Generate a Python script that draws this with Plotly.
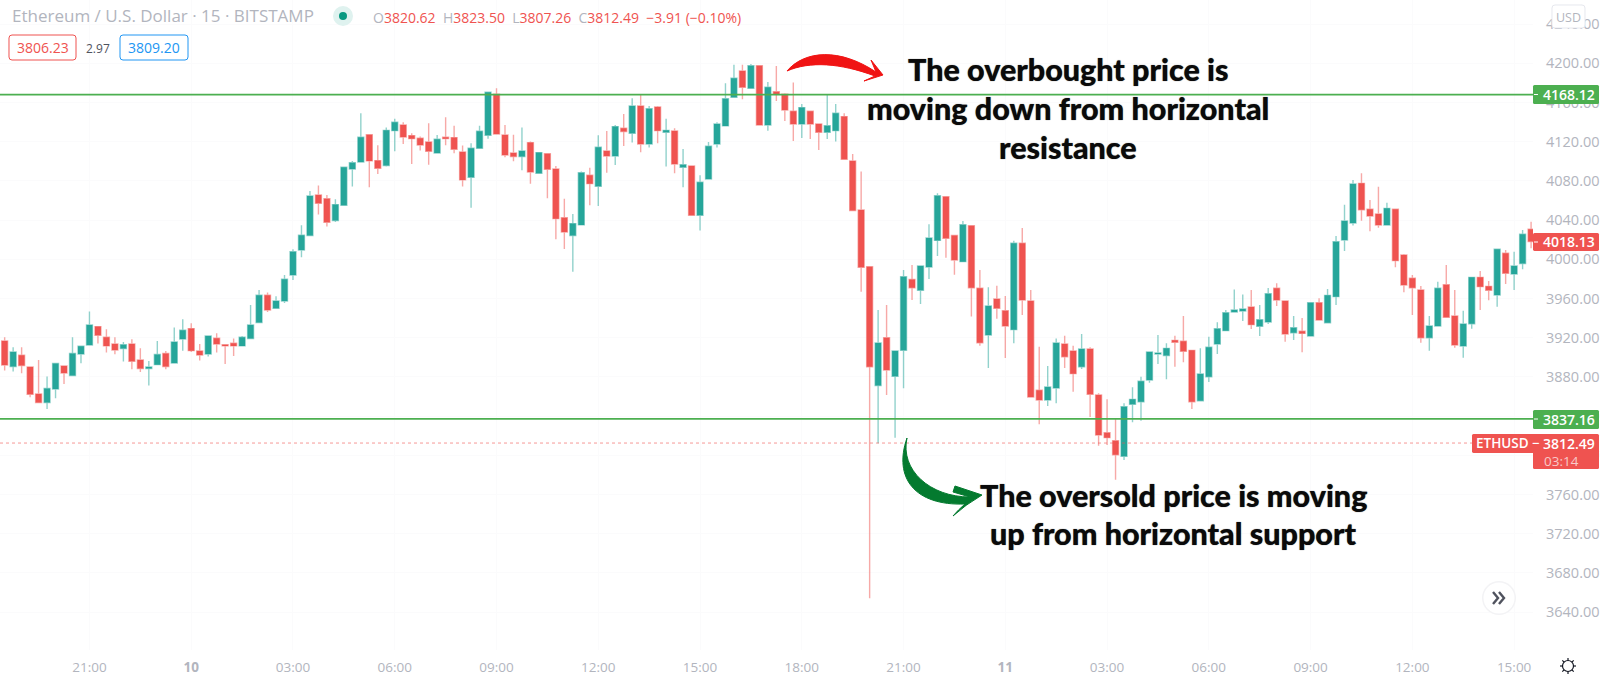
"""ETH/USD 15 minute candles with support and resistance lines, TradingView look."""
import math
import re

import pandas as pd
import plotly.graph_objects as go

# candle values, first candle is 18:30 on the 9th
opens = [
    3916.7, 3890.5, 3902.1, 3890.2, 3862.6, 3853.8, 3867.7, 3891.2, 3881.3, 3903.4,
    3912.6, 3931.3, 3920.4, 3913.6, 3908.9, 3913.6, 3897.3, 3888.5, 3892.5, 3903.8,
    3894.2, 3918.7, 3929.3, 3906.5, 3903.4, 3919.4, 3912.9, 3914.3, 3911.6, 3919.1,
    3935.4, 3963.3, 3950.0, 3957.5, 3984.0, 4009.5, 4024.2, 4065.7, 4061.9, 4039.5,
    4055.1, 4092.2, 4099.3, 4127.2, 4100.7, 4095.6, 4131.3, 4137.1, 4126.2, 4123.5,
    4119.7, 4108.5, 4124.5, 4124.2, 4109.5, 4083.7, 4113.3, 4126.5, 4168.4, 4126.9,
    4108.5, 4104.8, 4119.1, 4087.8, 4107.8, 4092.2, 4042.5, 4024.2, 4035.1, 4085.7,
    4074.5, 4110.6, 4105.4, 4133.7, 4128.6, 4156.5, 4117.7, 4155.4, 4129.6, 4131.0,
    4093.9, 4095.2, 4044.9, 4082.0, 4117.7, 4136.1, 4165.3, 4192.2, 4174.5, 4197.6,
    4137.1, 4171.1, 4168.4, 4151.0, 4138.1, 4151.0, 4138.1, 4129.6, 4131.3, 4145.6,
    4100.4, 4050.3, 3992.5, 3871.1, 3920.0, 3880.6, 3907.1, 3979.5, 3968.3, 3992.1,
    4019.3, 4063.9, 4024.4, 3997.6, 4034.3, 3970.4, 3922.8, 3959.5, 3947.6, 3928.2,
    4016.3, 3957.4, 3866.3, 3856.4, 3868.7, 3913.6, 3906.4, 3890.4, 3908.5, 3861.5,
    3823.1, 3814.9, 3799.0, 3852.0, 3854.7, 3876.8, 3903.4, 3901.7, 3917.3, 3916.3,
    3907.1, 3855.7, 3880.2, 3913.6, 3927.2, 3946.2, 3947.2, 3951.3, 3931.6, 3936.0,
    3970.4, 3957.4, 3925.1, 3926.5, 3921.7, 3955.7, 3935.3, 3961.9, 4019.7, 4037.0,
    4077.5, 4051.0, 4046.2, 4035.0, 4051.0, 4004.4, 3980.6, 3968.7, 3920.0, 3931.9,
    3974.1, 3942.1, 3911.5, 3934.3, 3981.6, 3972.4, 3963.6, 4006.1, 3985.0, 3995.6,
    4030.6,
]
highs = [
    3920.4, 3910.2, 3910.2, 3890.2, 3897.3, 3880.3, 3893.9, 3891.2, 3920.4, 3911.6,
    3946.6, 3931.3, 3928.6, 3920.4, 3915.7, 3918.4, 3909.2, 3896.3, 3916.7, 3906.5,
    3930.3, 3938.8, 3934.7, 3913.6, 3921.8, 3924.5, 3912.9, 3919.1, 3921.8, 3953.4,
    3968.7, 3966.0, 3962.3, 3984.0, 4010.2, 4034.7, 4069.7, 4075.2, 4065.7, 4061.2,
    4094.6, 4100.4, 4149.0, 4127.2, 4116.3, 4134.4, 4143.5, 4139.8, 4128.6, 4125.2,
    4138.8, 4126.9, 4144.9, 4136.4, 4116.0, 4118.4, 4136.4, 4170.4, 4174.5, 4137.1,
    4127.2, 4134.4, 4120.1, 4108.9, 4108.2, 4095.2, 4061.9, 4046.3, 4089.5, 4093.5,
    4126.5, 4131.0, 4137.1, 4148.3, 4164.3, 4168.4, 4156.5, 4156.5, 4143.5, 4133.7,
    4112.6, 4095.2, 4085.7, 4119.7, 4139.8, 4179.6, 4198.6, 4198.6, 4199.3, 4197.6,
    4181.0, 4197.3, 4169.4, 4180.3, 4158.5, 4151.0, 4138.1, 4168.4, 4158.5, 4149.0,
    4107.5, 4089.5, 3992.5, 3948.3, 3953.4, 3906.4, 3989.1, 3994.2, 3993.2, 4035.7,
    4067.3, 4063.9, 4024.4, 4039.1, 4034.3, 3989.1, 3971.4, 3973.1, 3962.5, 4019.0,
    4031.9, 3968.7, 3910.8, 3891.1, 3919.3, 3922.1, 3911.9, 3923.8, 3910.2, 3863.2,
    3857.1, 3837.7, 3853.0, 3869.4, 3880.2, 3905.4, 3922.8, 3914.2, 3922.1, 3942.1,
    3907.1, 3909.1, 3921.0, 3935.7, 3948.3, 3969.3, 3964.2, 3968.7, 3953.4, 3970.7,
    3975.5, 3957.4, 3942.1, 3940.1, 3955.7, 3960.2, 3969.7, 4023.8, 4055.7, 4080.9,
    4087.7, 4060.5, 4074.1, 4057.8, 4051.0, 4005.4, 3984.0, 3972.7, 3942.1, 3977.2,
    3994.2, 3968.7, 3947.6, 3982.3, 3988.0, 3977.8, 4010.2, 4009.5, 4007.8, 4029.9,
    4038.4,
]
lows = [
    3886.4, 3885.4, 3883.7, 3859.2, 3853.8, 3847.3, 3858.2, 3872.8, 3881.3, 3893.9,
    3912.6, 3914.0, 3904.8, 3903.1, 3895.6, 3887.8, 3885.1, 3871.1, 3892.5, 3887.8,
    3894.2, 3906.8, 3905.5, 3896.6, 3900.7, 3904.8, 3893.2, 3901.4, 3911.6, 3919.1,
    3935.4, 3946.3, 3949.4, 3955.5, 3978.9, 4002.1, 4024.2, 4045.6, 4033.4, 4038.1,
    4055.1, 4074.2, 4099.3, 4073.5, 4087.1, 4094.6, 4110.2, 4117.7, 4097.3, 4110.9,
    4096.6, 4108.5, 4116.3, 4108.2, 4074.2, 4052.7, 4113.3, 4123.1, 4127.9, 4104.1,
    4100.0, 4090.8, 4077.2, 4087.8, 4062.3, 4020.4, 4010.6, 3987.4, 4035.1, 4055.1,
    4054.4, 4088.4, 4096.3, 4115.7, 4119.1, 4109.2, 4114.0, 4118.4, 4094.6, 4087.8,
    4073.5, 4044.9, 4029.3, 4082.0, 4114.0, 4136.1, 4165.3, 4163.3, 4174.5, 4137.1,
    4131.3, 4161.6, 4141.2, 4120.8, 4123.8, 4122.8, 4111.6, 4122.8, 4120.1, 4102.0,
    4049.7, 3967.0, 3654.0, 3812.2, 3861.5, 3818.0, 3868.3, 3958.5, 3954.4, 3979.9,
    4003.4, 4001.7, 3984.3, 3997.6, 3941.5, 3911.9, 3889.1, 3939.4, 3899.3, 3914.2,
    3943.2, 3859.5, 3831.6, 3850.3, 3853.0, 3889.1, 3864.9, 3888.1, 3839.1, 3809.8,
    3810.5, 3775.0, 3795.2, 3833.6, 3835.3, 3874.1, 3893.2, 3877.5, 3890.4, 3894.9,
    3847.2, 3855.7, 3874.8, 3903.4, 3927.2, 3945.5, 3937.0, 3928.9, 3921.7, 3934.0,
    3952.3, 3915.9, 3917.6, 3905.1, 3921.7, 3938.1, 3935.3, 3953.4, 4008.5, 4034.6,
    4039.4, 4028.5, 4032.3, 4035.0, 3991.8, 3966.3, 3943.2, 3914.9, 3906.8, 3931.9,
    3940.8, 3909.8, 3899.6, 3929.2, 3948.3, 3958.1, 3951.7, 3974.8, 3968.7, 3989.8,
    4011.2,
]
closes = [
    3892.2, 3905.5, 3891.5, 3862.3, 3853.8, 3868.1, 3893.6, 3884.0, 3903.8, 3911.2,
    3933.0, 3922.5, 3911.6, 3907.5, 3912.9, 3895.9, 3888.5, 3890.2, 3902.8, 3890.5,
    3915.7, 3927.6, 3906.8, 3902.4, 3921.8, 3913.6, 3911.6, 3911.6, 3920.4, 3933.0,
    3963.3, 3948.3, 3957.5, 3979.6, 4007.8, 4024.5, 4064.6, 4057.2, 4037.8, 4055.8,
    4093.9, 4098.6, 4124.5, 4100.4, 4092.9, 4131.6, 4139.8, 4124.8, 4123.1, 4116.7,
    4110.2, 4122.5, 4123.1, 4112.3, 4081.0, 4113.3, 4130.6, 4170.4, 4127.9, 4106.5,
    4104.8, 4110.6, 4089.1, 4108.9, 4091.8, 4041.5, 4027.9, 4036.4, 4088.4, 4077.2,
    4114.3, 4105.4, 4135.4, 4130.3, 4156.5, 4117.7, 4153.7, 4131.3, 4131.6, 4097.3,
    4096.6, 4044.9, 4078.6, 4115.3, 4138.1, 4163.9, 4184.7, 4175.5, 4197.6, 4137.1,
    4175.5, 4168.4, 4152.4, 4138.1, 4154.8, 4138.1, 4129.6, 4136.4, 4149.0, 4102.0,
    4049.7, 3991.8, 3890.4, 3914.6, 3887.0, 3906.4, 3982.3, 3971.0, 3993.2, 4021.7,
    4064.9, 4021.4, 3999.3, 4035.3, 3971.0, 3914.9, 3952.3, 3950.0, 3931.9, 4016.3,
    3958.5, 3859.5, 3856.4, 3869.7, 3914.6, 3900.6, 3883.3, 3908.5, 3862.2, 3820.7,
    3818.0, 3800.6, 3849.6, 3857.1, 3875.5, 3905.4, 3904.4, 3909.1, 3915.3, 3906.1,
    3854.7, 3883.0, 3910.2, 3929.2, 3945.5, 3948.3, 3949.3, 3933.3, 3938.4, 3964.9,
    3958.5, 3923.8, 3930.2, 3924.4, 3955.7, 3938.1, 3963.2, 4018.0, 4039.1, 4076.8,
    4050.6, 4044.2, 4035.0, 4052.0, 3998.6, 3973.8, 3971.0, 3920.0, 3931.9, 3970.4,
    3940.8, 3912.5, 3934.0, 3981.6, 3972.1, 3968.3, 4010.2, 3985.7, 3993.2, 4025.5,
    4018.1,
]

price_ticks = list(range(3640, 4241, 40))
time_labels = ["21:00", "<b>10</b>", "03:00", "06:00", "09:00", "12:00", "15:00", "18:00",
               "21:00", "<b>11</b>", "03:00", "06:00", "09:00", "12:00", "15:00"]

RESISTANCE = 4168.12
SUPPORT = 3837.16
LAST_PRICE = 3812.49

GREEN = "#26a69a"
RED = "#ef5350"
LINE_GREEN = "#4caf50"
GREY = "#b2b5be"

# chart pane size in pixels, the price scale takes what is left of 1600
PANE_W = 1533
PANE_H = 650


def fx(x):
    return x / PANE_W


def fy(y):
    return 1 - y / PANE_H


def paper_path(path):
    # paths are easier to write in page pixels
    return re.sub(r"(-?[\d.]+),(-?[\d.]+)",
                  lambda m: f"{fx(float(m[1])):.5f},{fy(float(m[2])):.5f}", path)


def path_shape(path, fill="rgba(0,0,0,0)", line=None, width=0):
    return dict(type="path", xref="paper", yref="paper", path=paper_path(path), fillcolor=fill,
                line=dict(color=line or "rgba(0,0,0,0)", width=width), layer="above")


def round_box(x0, y0, x1, y1, r, fill="#ffffff", line=None, width=1):
    path = (f"M {x0 + r},{y0} L {x1 - r},{y0} Q {x1},{y0} {x1},{y0 + r} L {x1},{y1 - r} "
            f"Q {x1},{y1} {x1 - r},{y1} L {x0 + r},{y1} Q {x0},{y1} {x0},{y1 - r} "
            f"L {x0},{y0 + r} Q {x0},{y0} {x0 + r},{y0} Z")
    return path_shape(path, fill, line, width)


def circle(cx, cy, r, fill, line=None, width=0):
    return dict(type="circle", xref="paper", yref="paper", x0=fx(cx - r), x1=fx(cx + r),
                y0=fy(cy + r), y1=fy(cy - r), fillcolor=fill,
                line=dict(color=line or "rgba(0,0,0,0)", width=width), layer="above")


def label(text, x, y, size=13, color=GREY, anchor="left", family="Open Sans", weight=None, shadow=None):
    font = dict(family=family, size=size, color=color)
    if weight:
        font["weight"] = weight
    if shadow:
        font["shadow"] = shadow
    return dict(text=text, x=fx(x), y=fy(y), xref="paper", yref="paper", xanchor=anchor,
                yanchor="middle", showarrow=False, font=font)


times = pd.date_range("2021-05-09 18:30", periods=len(closes), freq="15min")
time_ticks = pd.date_range("2021-05-09 21:00", periods=len(time_labels), freq="3h")

fig = go.Figure(go.Candlestick(
    x=times.strftime("%Y-%m-%d %H:%M:%S").tolist(),
    open=opens, high=highs, low=lows, close=closes,
    whiskerwidth=0,
    increasing=dict(fillcolor=GREEN, line=dict(color="rgba(38,166,154,0.5)", width=1.4)),
    decreasing=dict(fillcolor=RED, line=dict(color="rgba(239,83,80,0.5)", width=1.4)),
    hoverinfo="skip",
))

shapes = []
# horizontal levels
for level in [RESISTANCE, SUPPORT]:
    shapes.append(dict(type="line", xref="paper", yref="y", x0=0, x1=1, y0=level, y1=level,
                       line=dict(color=LINE_GREEN, width=1.8), layer="above"))
shapes.append(dict(type="line", xref="paper", yref="y", x0=0, x1=1, y0=LAST_PRICE, y1=LAST_PRICE,
                   line=dict(color="rgba(239,83,80,0.6)", width=1, dash="dot"), layer="above"))

# price scale labels
shapes.append(round_box(1533, 85, 1599, 104, 1.5, LINE_GREEN))
shapes.append(round_box(1533, 410, 1599, 429, 1.5, LINE_GREEN))
shapes.append(round_box(1533, 233, 1599, 251, 1.5, RED))
shapes.append(round_box(1472, 434, 1599, 453, 1.5, RED))
shapes.append(round_box(1533, 450, 1599, 469, 1.5, RED))
for y in [94.5, 419, 242]:
    shapes.append(path_shape(f"M 1534,{y} L 1538,{y}", line="#ffffff", width=1))

# header boxes and status dot
shapes.append(round_box(9, 35, 76, 60, 3, "#ffffff", RED, 1))
shapes.append(round_box(120, 35, 188, 60, 3, "#ffffff", "#2196f3", 1))
shapes.append(circle(343, 16, 10, "#dff2ef"))
shapes.append(circle(343, 16, 4, "#089981"))

# USD button sits over the top tick label
shapes.append(round_box(1552, 5, 1585, 28, 3, "#ffffff", "#e6e8ee", 1))

# scroll to latest button
shapes.append(circle(1499, 598, 17, "#f3f3f5"))
shapes.append(circle(1499, 598, 15.5, "#ffffff"))
shapes.append(path_shape("M 1493,592 L 1498,598 L 1493,604", line="#50535e", width=2.4))
shapes.append(path_shape("M 1499,592 L 1504,598 L 1499,604", line="#50535e", width=2.4))

# settings gear
shapes.append(circle(1568, 666, 5.5, "#ffffff", "#131722", 1.2))
for k in range(8):
    a = k * math.pi / 4
    shapes.append(path_shape(
        f"M {1568 + 5.5 * math.cos(a):.1f},{666 + 5.5 * math.sin(a):.1f} "
        f"L {1568 + 8 * math.cos(a):.1f},{666 + 8 * math.sin(a):.1f}", line="#131722", width=1.2))

# hand drawn arrows
shapes.append(path_shape(
    "M 787,71 C 805,50 840,48 876,72 L 871,60 L 883,75 L 864,81 L 875,76 C 840,63 810,61 787,71 Z",
    fill="#f01414", line="#f01414", width=1))
shapes.append(path_shape(
    "M 907,438 C 893,478 915,506 965,504 Q 958,510 953,516 Q 965,505 982,495 L 955,486 "
    "L 953,492 L 970,497 C 930,497 900,470 907,438 Z",
    fill="#047a2f", line="#047a2f", width=1))

WHITE_BOLD = dict(color="#ffffff", anchor="center", weight=600)
annotations = [
    label("Ethereum / U.S. Dollar · 15 · BITSTAMP", 10, 16, size=17),
    label("O<span style='color:#ef5350'>3820.62</span>  H<span style='color:#ef5350'>3823.50</span>  "
          "L<span style='color:#ef5350'>3807.26</span>  C<span style='color:#ef5350'>3812.49</span>  "
          "<span style='color:#ef5350'>−3.91 (−0.10%)</span>", 371, 18, size=14),
    label("3806.23", 42.5, 47.5, size=14, color=RED, anchor="center"),
    label("2.97", 98, 48, size=12, color="#50535e", anchor="center"),
    label("3809.20", 154, 47.5, size=14, color="#2196f3", anchor="center"),
    label("USD", 1568.5, 17, size=12.5, anchor="center"),
    label("4168.12", 1568.5, 94.5, size=14, **WHITE_BOLD),
    label("3837.16", 1568.5, 419, size=14, **WHITE_BOLD),
    label("4018.13", 1568.5, 242, size=14, **WHITE_BOLD),
    label("ETHUSD", 1502, 443, size=13.5, **WHITE_BOLD),
    label("−", 1535, 443, size=13, **WHITE_BOLD),
    label("3812.49", 1568.5, 443, size=14, **WHITE_BOLD),
    label("03:14", 1561, 461, size=13.5, color="#f8c9c8", anchor="center"),
]
# overlay captions
for text, x, y in [
    ("The overbought price is", 1068, 69),
    ("moving down from horizontal", 1068, 108),
    ("resistance", 1068, 147),
    ("The oversold price is moving", 1173, 495),
    ("up from horizontal support", 1173, 533),
]:
    annotations.append(label(text, x, y, size=30.5, color="#0a0a0a", anchor="center", family="Lato",
                             weight=900, shadow="0 0 1px rgba(0,0,0,0.7)"))

fig.update_layout(
    width=1600, height=681,
    margin=dict(l=0, r=1600 - PANE_W, t=0, b=681 - PANE_H),
    paper_bgcolor="#ffffff", plot_bgcolor="#ffffff",
    showlegend=False,
    boxgap=0.3, boxgroupgap=0,
    shapes=shapes,
    annotations=annotations,
    font=dict(family="Open Sans", size=13, color=GREY),
)
fig.update_xaxes(
    range=["2021-05-09 18:21:45", "2021-05-11 15:33:24"],
    rangeslider_visible=False,
    tickmode="array", tickvals=time_ticks.strftime("%Y-%m-%d %H:%M:%S").tolist(), ticktext=time_labels,
    tickfont=dict(size=13.5),
    showgrid=True, gridcolor="#fbfbfc", zeroline=False, showline=False,
    ticks="", ticklabelstandoff=7,
)
fig.update_yaxes(
    range=[3601.3, 4264.6],
    side="right",
    tickmode="array", tickvals=price_ticks, tickformat=".2f",
    tickfont=dict(size=14.5),
    showgrid=True, gridcolor="#fbfbfc", zeroline=False, showline=False,
    ticks="", ticklabelstandoff=12,
)

# the browser's default 8px body margin would push the page off the window
fig.write_html("out.html", config=dict(displayModeBar=False),
               post_script="document.body.style.margin='0';")
